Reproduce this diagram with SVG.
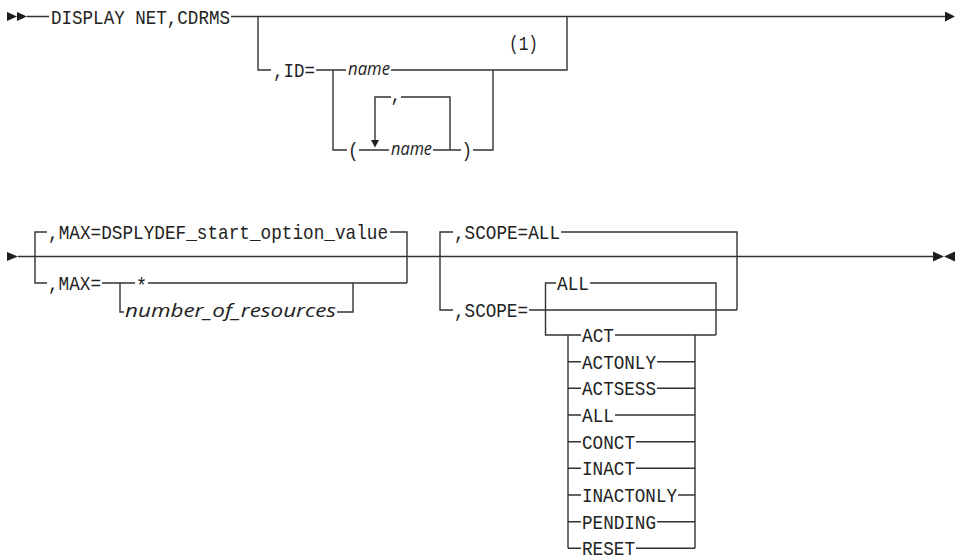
<svg xmlns="http://www.w3.org/2000/svg" width="961" height="557" viewBox="0 0 961 557">
<style>
.l{fill:none;stroke:#333;stroke-width:1.4;stroke-linecap:butt;stroke-linejoin:miter}
.m{font-family:"Liberation Mono","DejaVu Sans Mono",monospace;font-size:21px;fill:#222}
.i{font-family:"Open Sans","Noto Sans",sans-serif;font-style:italic;font-size:18px;fill:#222}
.a{fill:#1e1e1e;stroke:none}
</style>
<g id="connectors">
<path class="l" d="M27,16.5H49M231,16.5H945"/>
<path class="l" d="M258,16.5V70H271M316,70H346M391,70H567V16.5"/>
<path class="l" d="M333,70V150H347M359,150H389M433,150H461M473,150H493V70"/>
<path class="l" d="M375,141V97H391M401,97H450V150"/>
<path class="a" d="M371,140L379,140L375,147.5Z"/>
<path class="a" d="M945,11.5L955,16.5L945,21.5Z"/>
<path class="a" d="M7,12L17,16.5L7,21ZM17,12L27,16.5L17,21Z"/>
<path class="a" d="M7,252L18,256.5L7,261Z"/>
<path class="l" d="M18,256.5H933"/>
<path class="a" d="M933,251.5L944,256.5L933,261.5ZM955,251.5L944,256.5L955,261.5Z"/>
<path class="l" d="M35,256.5V232H47M390,232H407V283M35,256.5V283H47M102,283H135M148,283H407"/>
<path class="l" d="M120,283V312H124M337,312H353V283"/>
<path class="l" d="M440,256.5V232H453M561,232H737V310M440,256.5V310H453M529,310H737"/>
<path class="l" d="M545.5,310V283H556M590,283H716V335M545.5,310V335H581M615,335H716"/>
<path class="l" d="M568,335V548.3M695,335V548.3"/>
<path class="l" d="M568,361.7H581M657,361.7H695M568,388.3H581M657,388.3H695M568,415H581M615,415H695M568,441.7H581M636,441.7H695M568,468.3H581M636,468.3H695M568,495H581M678,495H695M568,521.7H581M657,521.7H695M568,548.3H581M636,548.3H695"/>
</g>
<g id="cmd"><text class="m" x="51" y="23.5" textLength="179" lengthAdjust="spacingAndGlyphs">DISPLAY NET,CDRMS</text></g>
<g id="id"><text class="m" x="273" y="77" textLength="42" lengthAdjust="spacingAndGlyphs">,ID=</text></g>
<g id="name1"><text class="i" x="348" y="74.5" textLength="42" lengthAdjust="spacingAndGlyphs">name</text></g>
<g id="note1"><text class="m" x="509" y="50" textLength="29" lengthAdjust="spacingAndGlyphs">(1)</text></g>
<g id="lparen"><text class="m" x="348" y="157" textLength="10.6" lengthAdjust="spacingAndGlyphs">(</text></g>
<g id="sep"><text class="m" x="390.5" y="101" textLength="10.6" lengthAdjust="spacingAndGlyphs">,</text></g>
<g id="name2"><text class="i" x="391" y="154.5" textLength="41" lengthAdjust="spacingAndGlyphs">name</text></g>
<g id="rparen"><text class="m" x="461.5" y="157" textLength="10.6" lengthAdjust="spacingAndGlyphs">)</text></g>
<g id="maxdef"><text class="m" x="48" y="239" textLength="340" lengthAdjust="spacingAndGlyphs">,MAX=DSPLYDEF_start_option_value</text></g>
<g id="max"><text class="m" x="48" y="290" textLength="53" lengthAdjust="spacingAndGlyphs">,MAX=</text></g>
<g id="star"><text class="m" x="136" y="293" style="font-size:22px" textLength="11" lengthAdjust="spacingAndGlyphs">*</text></g>
<g id="numres"><text class="i" x="125" y="316.5" textLength="211" lengthAdjust="spacingAndGlyphs">number_of_resources</text></g>
<g id="scopeall"><text class="m" x="454" y="239" textLength="106" lengthAdjust="spacingAndGlyphs">,SCOPE=ALL</text></g>
<g id="scope"><text class="m" x="454" y="317" textLength="74" lengthAdjust="spacingAndGlyphs">,SCOPE=</text></g>
<g id="all_default"><text class="m" x="557" y="290" textLength="32" lengthAdjust="spacingAndGlyphs">ALL</text></g>
<g id="act"><text class="m" x="582" y="342" textLength="32" lengthAdjust="spacingAndGlyphs">ACT</text></g>
<g id="actonly"><text class="m" x="582" y="368.7" textLength="74" lengthAdjust="spacingAndGlyphs">ACTONLY</text></g>
<g id="actsess"><text class="m" x="582" y="395.3" textLength="74" lengthAdjust="spacingAndGlyphs">ACTSESS</text></g>
<g id="all"><text class="m" x="582" y="422" textLength="32" lengthAdjust="spacingAndGlyphs">ALL</text></g>
<g id="conct"><text class="m" x="582" y="448.7" textLength="53" lengthAdjust="spacingAndGlyphs">CONCT</text></g>
<g id="inact"><text class="m" x="582" y="475.3" textLength="53" lengthAdjust="spacingAndGlyphs">INACT</text></g>
<g id="inactonly"><text class="m" x="582" y="502" textLength="95" lengthAdjust="spacingAndGlyphs">INACTONLY</text></g>
<g id="pending"><text class="m" x="582" y="528.7" textLength="74" lengthAdjust="spacingAndGlyphs">PENDING</text></g>
<g id="reset"><text class="m" x="582" y="554.5" textLength="53" lengthAdjust="spacingAndGlyphs">RESET</text></g>
</svg>
